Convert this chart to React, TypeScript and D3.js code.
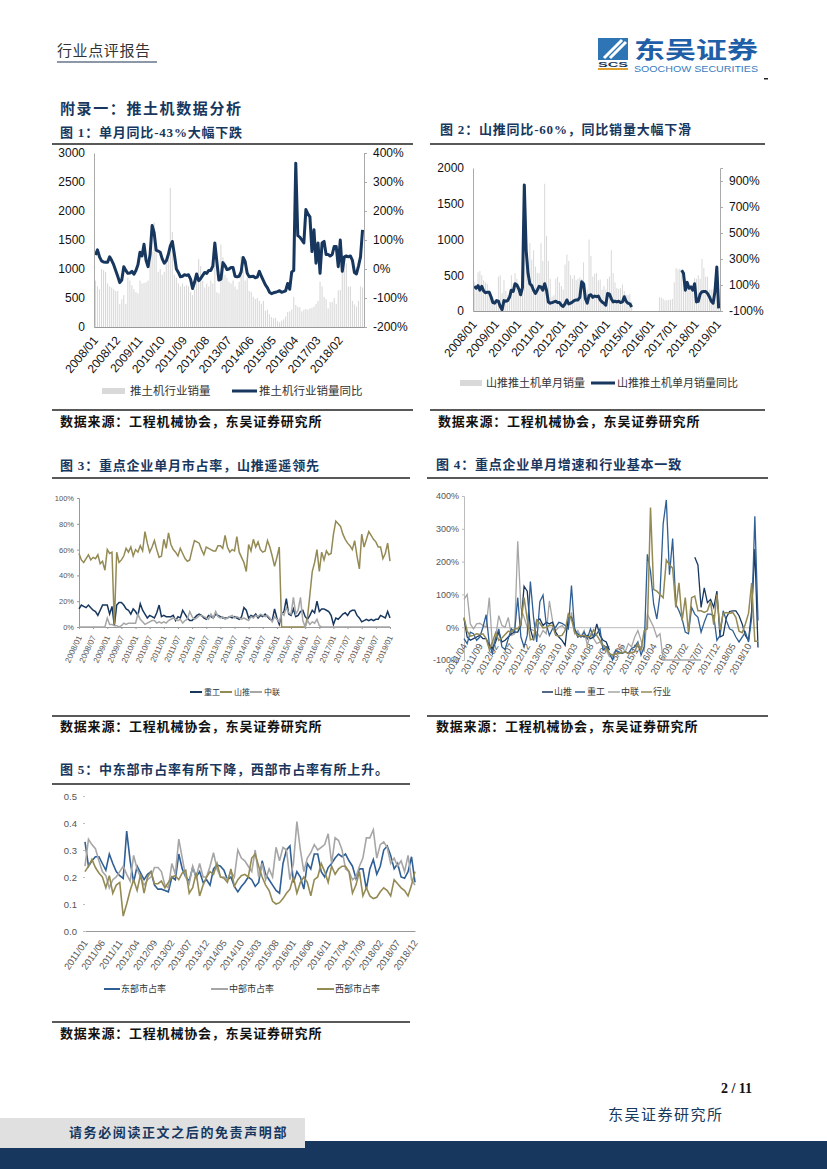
import { useEffect, useRef } from "react";
import * as d3 from "d3";

// report page 2: five charts about bulldozer sales

const NAVY = "#17375e";
const BLUE = "#2f5f94";
const OLIVE = "#948a54";
const GREY = "#a6a6a6";
const BAR = "#d9d9d9";
const N = null;

const salesTicks = ["2008/01", "2008/12", "2009/11", "2010/10", "2011/09", "2012/08", "2013/07", "2014/06", "2015/05", "2016/04", "2017/03", "2018/02"];
const shantuiTicks = ["2008/01", "2009/01", "2010/01", "2011/01", "2012/01", "2013/01", "2014/01", "2015/01", "2016/01", "2017/01", "2018/01", "2019/01"];
const shareTicks = ["2008/01", "2008/07", "2009/01", "2009/07", "2010/01", "2010/07", "2011/01", "2011/07", "2012/01", "2012/07", "2013/01", "2013/07", "2014/01", "2014/07", "2015/01", "2015/07", "2016/01", "2016/07", "2017/01", "2017/07", "2018/01", "2018/07", "2019/01"];
const growthTicks = ["2011/04", "2011/09", "2012/02", "2012/07", "2012/12", "2013/05", "2013/10", "2014/03", "2014/08", "2015/01", "2015/06", "2015/11", "2016/04", "2016/09", "2017/02", "2017/07", "2017/12", "2018/05", "2018/10"];
const regionTicks = ["2011/01", "2011/06", "2011/11", "2012/04", "2012/09", "2013/02", "2013/07", "2013/12", "2014/05", "2014/10", "2015/03", "2015/08", "2016/01", "2016/06", "2016/11", "2017/04", "2017/09", "2018/02", "2018/07", "2018/12"];

const industrySales = [800, 700, 650, 1000, 980, 950, 750, 700, 680, 650, 620, 620, 400, 480, 550, 400, 850, 800, 720, 650, 600, 580, 800, 750, 760, 770, 800, 1100, 1300, 1800, 1400, 950, 1000, 900, 950, 1100, 1200, 2400, 1640, 900, 850, 750, 700, 750, 700, 720, 700, 600, 550, 650, 850, 1170, 1050, 800, 680, 750, 700, 800, 750, 1300, 600, 580, 1420, 1200, 900, 850, 780, 750, 800, 700, 650, 780, 1220, 1000, 800, 850, 620, 600, 520, 480, 500, 450, 400, 450, 280, 300, 220, 170, 150, 160, 100, 80, 110, 130, 180, 260, 270, 300, 520, 380, 350, 340, 270, 300, 310, 300, 320, 330, 350, 400, 450, 780, 700, 520, 480, 320, 430, 430, 500, 400, 630, 640, 1000, 1100, 1100, 700, 700, 450, 390, 350, 450, 700, 680];
const industryYoy = [48, 66, 42, 28, 24, 23, 23, 42, 30, 15, -5, -25, -47, -38, 8, -5, -15, -14, -8, -18, -5, 15, 58, 45, 85, 30, 8, 50, 150, 125, 65, 62, 58, 35, 20, 28, 50, 80, 95, 50, 0, -12, -27, -25, -20, -22, -20, -35, -67, -45, -17, -40, -33, -22, -12, -15, -5, -5, 10, 90, 25, -38, -35, 22, 12, -2, 0, 5, 5, -25, -27, -25, -10, 40, 25, -15, -27, -26, -25, -30, -28, -8, -25, -40, -55, -65, -80, -85, -82, -80, -78, -75, -80, -78, -75, -50, -70, -10, -5, 365, 115, 110, 100, 90, 205, 190, 180, 60, 135, 20, 90, -15, 90, 95, 50, 50, 45, 50, 78, 78, 8, 100, -8, 42, 45, 42, 45, 30, -12, -17, 10, 42, 135];

const shantuiSales = [400, 350, 540, 560, 500, 430, 400, 380, 300, 250, 200, 150, 120, 480, 500, 250, 430, 280, 220, 300, 500, 380, 530, 450, 350, 300, 550, 950, 930, 700, 950, 720, 850, 620, 530, 530, 950, 700, 1780, 1050, 700, 450, 200, 220, 450, 480, 400, 350, 300, 650, 790, 700, 500, 450, 500, 430, 450, 470, 450, 680, 380, 300, 1000, 770, 480, 520, 530, 430, 440, 300, 350, 300, 450, 480, 850, 530, 400, 320, 310, 320, 370, 280, 230, 220, 240, 130, 0, 0, 0, 0, 0, 0, 0, 0, 0, 0, 0, 0, 0, 0, 190, 190, 170, 150, 150, 155, 160, 170, 400, 600, 580, 590, 580, 500, 450, 400, 370, 350, 330, 460, 450, 500, 450, 730, 600, 480, 480, 300, 300, 300, 400, 400, 300];
const shantuiYoy = [90, 75, 95, 60, 90, 55, 40, 45, 45, 10, -35, -40, -20, -25, -65, -90, -20, -25, -20, 5, 60, 50, 110, 100, 70, 25, 80, 870, 365, 190, 110, 95, 60, 35, 60, 90, 85, 60, 110, 60, -30, -40, -35, -30, -25, -35, -35, -55, -65, -45, -15, -45, -40, -30, -20, -15, -15, 5, 125, 110, -5, -40, 20, 25, 5, 15, 10, 15, -15, -30, -40, -55, 35, 30, -5, -30, -25, -30, -25, -35, -30, 10, -25, -40, -45, -70, N, N, N, N, N, N, N, N, N, N, N, N, N, N, N, N, N, N, N, N, N, N, N, N, N, N, 213, 190, 60, 120, 75, 85, 60, 110, -30, -25, 30, 48, 50, 50, 35, 10, -25, -40, 50, 238, -80];

const shareZoomlion = [0, 0, 0, 0, 0, 0, 0, 0, 0, 0, 0, 0, 7, 2, 2, 1, 1, 0, 1, 3, 2, 3, 3, 3, 3, 10, 6, 4, 2, 3, 4, 5, 5, 3, 4, 3, 4, 3, 5, 6, 7, 6, 5, 6, 3, 5, 6, 12, 8, 6, 7, 9, 9, 8, 7, 6, 10, 7, 12, 8, 7, 8, 6, 7, 8, 9, 7, 8, 7, 6, 7, 6, 5, 8, 7, 9, 8, 10, 9, 8, 9, 7, 4, 8, 6, 4, 11, 9, 15, 11, 10, 23, 10, 13, 23, 5, 0, 5, 2, 4, 3, 6, 1, 0, 0, 0, 0, 0, 0, 0, 0, 0, 0, 0, 0, 0, 0, 0, 0, 0, 0, 0, 0, 0, 0, 0, 0, 0, 0, 0, 0, 0, 0];
const shareShantui = [57, 52, 50, 53, 56, 52, 54, 53, 56, 49, 51, 44, 60, 57, 58, 2, 58, 50, 52, 55, 61, 58, 62, 55, 60, 58, 63, 59, 74, 65, 58, 62, 67, 60, 54, 55, 68, 61, 73, 64, 60, 58, 55, 61, 57, 53, 51, 52, 60, 67, 66, 65, 60, 56, 62, 61, 60, 59, 59, 63, 63, 61, 71, 62, 58, 60, 59, 70, 58, 54, 50, 43, 64, 59, 68, 62, 66, 60, 58, 59, 67, 62, 55, 47, 54, 62, 0, 0, 0, 0, 0, 0, 0, 0, 0, 0, 0, 8, 25, 43, 50, 60, 43, 58, 52, 59, 56, 57, 72, 82, 80, 78, 72, 68, 65, 63, 60, 67, 55, 45, 72, 62, 68, 74, 71, 68, 66, 62, 62, 53, 57, 65, 51];
const shareXcmg = [14, 17, 16, 15, 17, 15, 13, 12, 9, 13, 17, 17, 17, 10, 16, 1, 17, 19, 19, 17, 14, 13, 10, 14, 12, 9, 18, 13, 10, 7, 9, 8, 7, 11, 17, 8, 9, 8, 8, 8, 9, 5, 8, 7, 13, 10, 7, 5, 5, 7, 9, 10, 9, 7, 6, 9, 8, 7, 10, 9, 8, 7, 7, 7, 8, 7, 8, 7, 6, 8, 15, 13, 7, 9, 8, 10, 7, 9, 8, 10, 8, 6, 5, 14, 7, 2, 10, 12, 22, 10, 9, 14, 8, 9, 12, 13, 8, 6, 9, 13, 11, 20, 12, 14, 14, 13, 12, 9, 2, 7, 6, 8, 10, 11, 9, 12, 13, 13, 9, 7, 4, 5, 6, 5, 6, 5, 6, 6, 9, 8, 7, 12, 7];

const growthShantui = [27, -30, -40, -35, -30, -25, -35, -35, -55, -65, -45, -15, -45, -40, -30, -20, -15, -15, 5, 125, 110, -5, -40, 20, 25, 5, 15, 10, 15, -15, -30, -40, -55, 35, 30, -5, -30, -25, -30, -25, -35, -30, 10, -25, -40, -45, -70, N, N, N, N, N, N, N, N, N, N, N, N, N, N, N, N, N, N, N, N, N, N, N, N, N, N, 213, 190, 60, 120, 75, 85, 60, 110, -30, -25, 30, 48, 50, 50, 35, 10, -25, -40, 50, 238, -62];
const growthXcmg = [-35, -50, -15, -20, -40, -30, 0, 38, -50, -80, -35, -5, -60, -68, -35, -5, -15, 90, -30, -60, -25, 139, 30, -45, 78, 98, 10, -25, -5, 0, 15, 12, 5, -5, 127, -10, -20, -30, -15, -35, -5, -30, -20, -5, -70, -60, -80, -100, -70, -75, -80, -75, -80, -65, -60, -45, -85, -60, 222, 170, 70, 25, 100, 315, 388, 160, 270, 70, 50, 25, -15, -20, 60, 40, 30, -15, 15, 40, 40, 35, -40, -25, 50, 20, -5, -10, -30, -45, -30, -15, -45, 30, 338, 20];
const growthZoomlion = [85, 100, 10, -5, 10, 12, 5, 0, 90, -60, -30, 35, 5, 0, 30, -25, -20, 262, 60, 30, 0, -5, -10, -15, -30, -10, -20, 80, 20, -10, 0, 5, -5, 0, 45, -20, -10, -30, -10, -55, -20, -35, -50, -45, -60, -70, -90, -85, -70, -65, -60, -75, -50, -60, -30, -10, -40, -75, 40, 20, 0, -30, -20, -100, -100, -100, -100, -100, -100, -100, -100, -100, -100, -100, -100, -100, N, N, N, N, N, N, N, N, N, N, N, N, N, N, N, N, N, N];
const growthIndustry = [30, -12, -27, -25, -20, -22, -20, -35, -67, -45, -17, -40, -33, -22, -12, -15, -5, -5, 10, 90, 25, -38, -35, 22, 12, -2, 0, 5, 5, -25, -27, -25, -10, 40, 25, -15, -27, -26, -25, -30, -28, -8, -25, -40, -55, -65, -80, -85, -82, -80, -78, -75, -80, -78, -75, -50, -70, -10, -5, 365, 115, 110, 100, 90, 205, 190, 180, 60, 135, 20, 90, -15, 90, 95, 50, 50, 45, 50, 78, 8, 100, -8, 42, 45, 42, 45, 30, -12, -17, 10, 42, 135, -43, -43];

const regionEast = [0.33, 0.24, 0.26, 0.275, 0.275, 0.25, 0.225, 0.285, 0.25, 0.22, 0.205, 0.195, 0.37, 0.26, 0.18, 0.24, 0.215, 0.19, 0.21, 0.22, 0.17, 0.155, 0.155, 0.15, 0.145, 0.2, 0.19, 0.285, 0.23, 0.2, 0.185, 0.235, 0.2, 0.22, 0.18, 0.19, 0.17, 0.23, 0.245, 0.24, 0.225, 0.19, 0.2, 0.165, 0.145, 0.165, 0.18, 0.2, 0.19, 0.165, 0.18, 0.26, 0.21, 0.19, 0.17, 0.15, 0.14, 0.25, 0.3, 0.315, 0.18, 0.22, 0.2, 0.155, 0.25, 0.23, 0.285, 0.285, 0.22, 0.2, 0.235, 0.25, 0.27, 0.285, 0.275, 0.285, 0.26, 0.24, 0.195, 0.23, 0.23, 0.155, 0.23, 0.265, 0.21, 0.24, 0.3, 0.315, 0.28, 0.23, 0.25, 0.2, 0.195, 0.22, 0.275, 0.18];
const regionCentral = [0.24, 0.34, 0.32, 0.305, 0.26, 0.22, 0.205, 0.16, 0.19, 0.2, 0.22, 0.24, 0.21, 0.185, 0.28, 0.23, 0.2, 0.17, 0.19, 0.2, 0.235, 0.235, 0.22, 0.17, 0.16, 0.25, 0.21, 0.34, 0.27, 0.2, 0.175, 0.24, 0.2, 0.25, 0.2, 0.2, 0.24, 0.29, 0.23, 0.2, 0.2, 0.19, 0.22, 0.2, 0.3, 0.27, 0.26, 0.24, 0.22, 0.3, 0.2, 0.25, 0.19, 0.23, 0.2, 0.31, 0.26, 0.31, 0.3, 0.19, 0.25, 0.405, 0.3, 0.22, 0.27, 0.29, 0.32, 0.3, 0.31, 0.32, 0.36, 0.25, 0.345, 0.335, 0.3, 0.23, 0.22, 0.19, 0.2, 0.24, 0.27, 0.345, 0.345, 0.375, 0.27, 0.32, 0.33, 0.31, 0.25, 0.27, 0.24, 0.26, 0.22, 0.28, 0.19, 0.17];
const regionWest = [0.22, 0.24, 0.265, 0.235, 0.215, 0.2, 0.16, 0.205, 0.14, 0.17, 0.18, 0.055, 0.1, 0.15, 0.19, 0.15, 0.21, 0.14, 0.2, 0.22, 0.175, 0.175, 0.185, 0.16, 0.18, 0.2, 0.205, 0.19, 0.215, 0.225, 0.14, 0.16, 0.215, 0.13, 0.17, 0.2, 0.22, 0.21, 0.25, 0.2, 0.195, 0.18, 0.23, 0.165, 0.19, 0.205, 0.21, 0.2, 0.27, 0.285, 0.24, 0.2, 0.17, 0.15, 0.11, 0.1, 0.105, 0.12, 0.14, 0.155, 0.2, 0.14, 0.18, 0.2, 0.18, 0.13, 0.19, 0.2, 0.25, 0.22, 0.18, 0.24, 0.21, 0.23, 0.24, 0.24, 0.22, 0.14, 0.17, 0.22, 0.13, 0.16, 0.13, 0.12, 0.125, 0.145, 0.16, 0.15, 0.13, 0.19, 0.175, 0.16, 0.15, 0.13, 0.17, 0.22];

// month labels for a run of n months
const monthsFrom = (year: number, month: number, n: number) =>
  d3.range(n).map((i) => d3.timeFormat("%Y/%m")(new Date(year, month - 1 + i, 1)));

const months2008 = monthsFrom(2008, 1, 133);
const months2011Apr = monthsFrom(2011, 4, 94);
const months2011 = monthsFrom(2011, 1, 96);

const SANS = "'Liberation Sans', Arial, 'Noto Sans CJK SC'";
const CJK = "'Liberation Serif', 'Noto Sans CJK SC'";

const Axis = ({ axis, x = 0, y = 0, rotate = 0, size, color = "#111", line = "#888", anchor, noDomain }: any) => {
  const ref = useRef<SVGGElement>(null);
  useEffect(() => {
    const g = d3.select(ref.current);
    g.call(axis);
    g.select(".domain").attr("stroke", noDomain ? "none" : line);
    g.selectAll(".tick line").attr("stroke", line);
    const text = g.selectAll(".tick text").attr("font-size", size).attr("font-family", SANS).attr("fill", color);
    if (rotate) {
      text.attr("text-anchor", anchor || "end").attr("dy", "0.35em").attr("transform", function () {
        const t = d3.select(this);
        return `rotate(${rotate},${t.attr("x") || 0},${t.attr("y") || 0})`;
      });
    }
  }, [axis]);
  return <g ref={ref} transform={`translate(${x},${y})`} />;
};

const Frame = ({ title, tx, ty, x1, x2, top, bottom, sx, sy }: any) => (
  <g fontFamily={CJK} fontWeight="bold">
    <text x={tx} y={ty} fontSize={13} fill={NAVY} letterSpacing={0.8}>{title}</text>
    <line x1={x1} x2={x2} y1={top} y2={top} stroke="#222" strokeWidth={1.6} />
    <line x1={x1} x2={x2} y1={bottom} y2={bottom} stroke="#222" strokeWidth={1.6} />
    <text x={sx} y={sy} fontSize={13} fill="#111" letterSpacing={0.8}>数据来源：工程机械协会，东吴证券研究所</text>
  </g>
);

const LegendLine = ({ x1, x2, y, color, width, label, size, tx }: any) => (
  <g>
    <line x1={x1} x2={x2} y1={y} y2={y} stroke={color} strokeWidth={width} />
    <text x={tx} y={y + size * 0.36} fontSize={size} fontFamily={CJK} fill="#333">{label}</text>
  </g>
);

const drawLine = (x: any, y: any, values: (number | null)[], cats: string[]) =>
  d3.line<number | null>()
    .defined((d) => d !== null)
    .x((_, i) => x(cats[i]))
    .y((d) => y(d))(values) as string;

const BarLine = ({ left, right, top, bottom, cats, bars, line, barMax, rMin, rMax, rTicks, lTicks, ticks, rightPad }: any) => {
  const band = d3.scaleBand<string>().domain(cats).range([left, right]).padding(0.45);
  const xMid = (m: string) => (band(m) as number) + band.bandwidth() / 2;
  const yL = d3.scaleLinear([0, barMax], [bottom, top]);
  const yR = d3.scaleLinear([rMin, rMax], [bottom, top]);
  return (
    <g>
      {bars.map((d: number, i: number) => (
        <rect key={i} x={band(cats[i])} y={yL(d)} width={band.bandwidth()} height={yL(0) - yL(d)} fill={BAR} />
      ))}
      <path d={drawLine(xMid, yR, line, cats)} fill="none" stroke={NAVY} strokeWidth={3} strokeLinejoin="round" />
      <Axis axis={d3.axisLeft(yL).tickValues(lTicks).tickSize(0).tickPadding(9).tickFormat(d3.format("d"))} x={left} size={12} line="#aaa" />
      <Axis axis={d3.axisRight(yR).tickValues(rTicks).tickSize(3).tickPadding(rightPad).tickFormat((d: any) => `${d}%`)} x={right} size={12} line="#aaa" />
      <Axis axis={d3.axisBottom(band).tickValues(ticks).tickSize(0).tickPadding(11)} y={bottom} size={12} rotate={-50} line="#999" />
    </g>
  );
};

export default function App() {
  const x3 = d3.scalePoint<string>().domain(months2008).range([79, 390]);
  const y3 = d3.scaleLinear([0, 100], [627, 498]);
  const x4 = d3.scalePoint<string>().domain(months2011Apr).range([464, 758]);
  const y4 = d3.scaleLinear([-100, 400], [660, 496]);
  const x5 = d3.scalePoint<string>().domain(months2011).range([85, 415]);
  const y5 = d3.scaleLinear([0, 0.5], [931, 796]);

  return (
    <svg width={827} height={1169} style={{ position: "absolute", left: 0, top: 0, background: "#fff" }}>
      {/* header */}
      <text x={57} y={56} fontSize={15} fontFamily={CJK} fill="#333" letterSpacing={0.6}>行业点评报告</text>
      <line x1={57} x2={157} y1={62} y2={62} stroke="#66758a" strokeWidth={1.5} />
      <rect x={598} y={38} width={30} height={22} fill="#2e75b6" />
      <path d="M604 58 L622 40 M610 58 L626 42" stroke="#fff" strokeWidth={3} fill="none" />
      <text x={598} y={67} fontSize={8} fontWeight="bold" fontFamily={SANS} fill={NAVY} textLength={30} lengthAdjust="spacingAndGlyphs">SCS</text>
      <rect x={598} y={68} width={30} height={2} fill="#e0a030" />
      <text x={634} y={58} fontSize={23} fontWeight="bold" fontFamily="'Noto Sans CJK SC'" fill="#1f5fa8" textLength={124} lengthAdjust="spacingAndGlyphs">东吴证券</text>
      <text x={634} y={72} fontSize={9.5} fontFamily={SANS} fill="#3a7cc0" textLength={124} lengthAdjust="spacingAndGlyphs">SOOCHOW SECURITIES</text>
      <rect x={764} y={78} width={4} height={1.5} fill="#222" />

      <text x={60} y={114} fontSize={15} fontWeight="bold" fontFamily={CJK} fill={NAVY} letterSpacing={1.6}>附录一：推土机数据分析</text>

      {/* chart 1 */}
      <Frame title="图 1：单月同比-43%大幅下跌" tx={60} ty={137} x1={52} x2={413} top={144} bottom={410} sx={60} sy={426} />
      <BarLine left={94} right={364} top={153} bottom={327} cats={months2008} bars={industrySales} line={industryYoy} barMax={3000}
        rMin={-200} rMax={400} rTicks={[-200, -100, 0, 100, 200, 300, 400]} lTicks={[0, 500, 1000, 1500, 2000, 2500, 3000]} ticks={salesTicks} rightPad={6} />
      <rect x={102} y={388} width={23} height={6} fill={BAR} />
      <text x={130} y={395} fontSize={11.5} fontFamily={CJK} fill="#333">推土机行业销量</text>
      <LegendLine x1={232} x2={257} y={391} color={NAVY} width={3} label="推土机行业销量同比" size={11.5} tx={259} />

      {/* chart 2 */}
      <Frame title="图 2：山推同比-60%，同比销量大幅下滑" tx={440} ty={134} x1={430} x2={765} top={144} bottom={410} sx={438} sy={426} />
      <BarLine left={473} right={720} top={168} bottom={311} cats={months2008} bars={shantuiSales} line={shantuiYoy} barMax={2000}
        rMin={-100} rMax={1000} rTicks={[-100, 100, 300, 500, 700, 900]} lTicks={[0, 500, 1000, 1500, 2000]} ticks={shantuiTicks} rightPad={6} />
      <rect x={460} y={380} width={22} height={6} fill={BAR} />
      <text x={486} y={387} fontSize={11} fontFamily={CJK} fill="#333">山推推土机单月销量</text>
      <LegendLine x1={591} x2={615} y={383} color={NAVY} width={3} label="山推推土机单月销量同比" size={11} tx={617} />

      {/* chart 3 */}
      <Frame title="图 3：重点企业单月市占率，山推遥遥领先" tx={60} ty={470} x1={52} x2={410} top={478} bottom={716} sx={60} sy={731} />
      <Axis axis={d3.axisLeft(y3).tickValues([0, 20, 40, 60, 80, 100]).tickSize(2).tickPadding(3).tickFormat((d: any) => `${d}%`)} x={79} size={7.5} color="#555" line="#999" />
      <Axis axis={d3.axisBottom(x3).tickValues(shareTicks).tickSize(2).tickPadding(7)} y={627} size={8} rotate={-65} color="#555" line="#999" />
      <path d={drawLine(x3, y3, shareXcmg, months2008)} fill="none" stroke={NAVY} strokeWidth={1.5} />
      <path d={drawLine(x3, y3, shareShantui, months2008)} fill="none" stroke={OLIVE} strokeWidth={1.5} />
      <path d={drawLine(x3, y3, shareZoomlion, months2008)} fill="none" stroke={GREY} strokeWidth={1.5} />
      <LegendLine x1={190} x2={202} y={692} color={NAVY} width={2} label="重工" size={8} tx={204} />
      <LegendLine x1={220} x2={232} y={692} color={OLIVE} width={2} label="山推" size={8} tx={234} />
      <LegendLine x1={250} x2={262} y={692} color={GREY} width={2} label="中联" size={8} tx={264} />

      {/* chart 4 */}
      <Frame title="图 4：重点企业单月增速和行业基本一致" tx={436} ty={469} x1={427} x2={768} top={478} bottom={716} sx={436} sy={731} />
      <Axis axis={d3.axisLeft(y4).tickValues([-100, 0, 100, 200, 300, 400]).tickSize(2).tickPadding(3).tickFormat((d: any) => `${d}%`)} x={464} size={9} color="#555" line="#bbb" />
      <Axis axis={d3.axisBottom(x4).tickValues(growthTicks).tickSize(0).tickPadding(17)} y={y4(0)} size={9.5} rotate={-60} color="#555" line="#bbb" />
      <path d={drawLine(x4, y4, growthZoomlion, months2011Apr)} fill="none" stroke={GREY} strokeWidth={1.3} />
      <path d={drawLine(x4, y4, growthShantui, months2011Apr)} fill="none" stroke={NAVY} strokeWidth={1.3} />
      <path d={drawLine(x4, y4, growthXcmg, months2011Apr)} fill="none" stroke={BLUE} strokeWidth={1.3} />
      <path d={drawLine(x4, y4, growthIndustry, months2011Apr)} fill="none" stroke={OLIVE} strokeWidth={1.5} />
      <LegendLine x1={542} x2={553} y={692} color={NAVY} width={1.5} label="山推" size={9} tx={554} />
      <LegendLine x1={575} x2={585} y={692} color={BLUE} width={1.5} label="重工" size={9} tx={587} />
      <LegendLine x1={608} x2={620} y={692} color={GREY} width={1.5} label="中联" size={9} tx={621} />
      <LegendLine x1={641} x2={652} y={692} color={OLIVE} width={1.5} label="行业" size={9} tx={653} />

      {/* chart 5 */}
      <Frame title="图 5：中东部市占率有所下降，西部市占率有所上升。" tx={60} ty={774} x1={52} x2={410} top={784} bottom={1022} sx={60} sy={1038} />
      <Axis axis={d3.axisLeft(y5).tickValues([0, 0.1, 0.2, 0.3, 0.4, 0.5]).tickSize(2).tickPadding(6).tickFormat(d3.format(".1f"))} x={85} size={9.5} color="#555" line="#bbb" noDomain />
      <Axis axis={d3.axisBottom(x5).tickValues(regionTicks).tickSize(0).tickPadding(10)} y={931} size={9.5} rotate={-55} color="#555" line="#999" />
      <path d={drawLine(x5, y5, regionEast, months2011)} fill="none" stroke={BLUE} strokeWidth={1.6} />
      <path d={drawLine(x5, y5, regionCentral, months2011)} fill="none" stroke={GREY} strokeWidth={1.6} />
      <path d={drawLine(x5, y5, regionWest, months2011)} fill="none" stroke={OLIVE} strokeWidth={1.6} />
      <LegendLine x1={104} x2={120} y={989} color={BLUE} width={2} label="东部市占率" size={9} tx={121} />
      <LegendLine x1={211} x2={228} y={989} color={GREY} width={2} label="中部市占率" size={9} tx={229} />
      <LegendLine x1={317} x2={334} y={989} color={OLIVE} width={2} label="西部市占率" size={9} tx={335} />

      {/* footer */}
      <text x={752} y={1093} textAnchor="end" fontSize={14} fontWeight="bold" fontFamily="'Liberation Serif'" fill="#111">2 / 11</text>
      <text x={608} y={1120} fontSize={15} fontFamily={CJK} fill="#17375e" letterSpacing={1.5}>东吴证券研究所</text>
      <rect x={0} y={1141} width={827} height={28} fill={NAVY} />
      <rect x={0} y={1118} width={305} height={30} fill="#e0e0e0" />
      <text x={69} y={1137} fontSize={13} fontWeight="bold" fontFamily={CJK} fill={NAVY} letterSpacing={1.6}>请务必阅读正文之后的免责声明部</text>
    </svg>
  );
}
